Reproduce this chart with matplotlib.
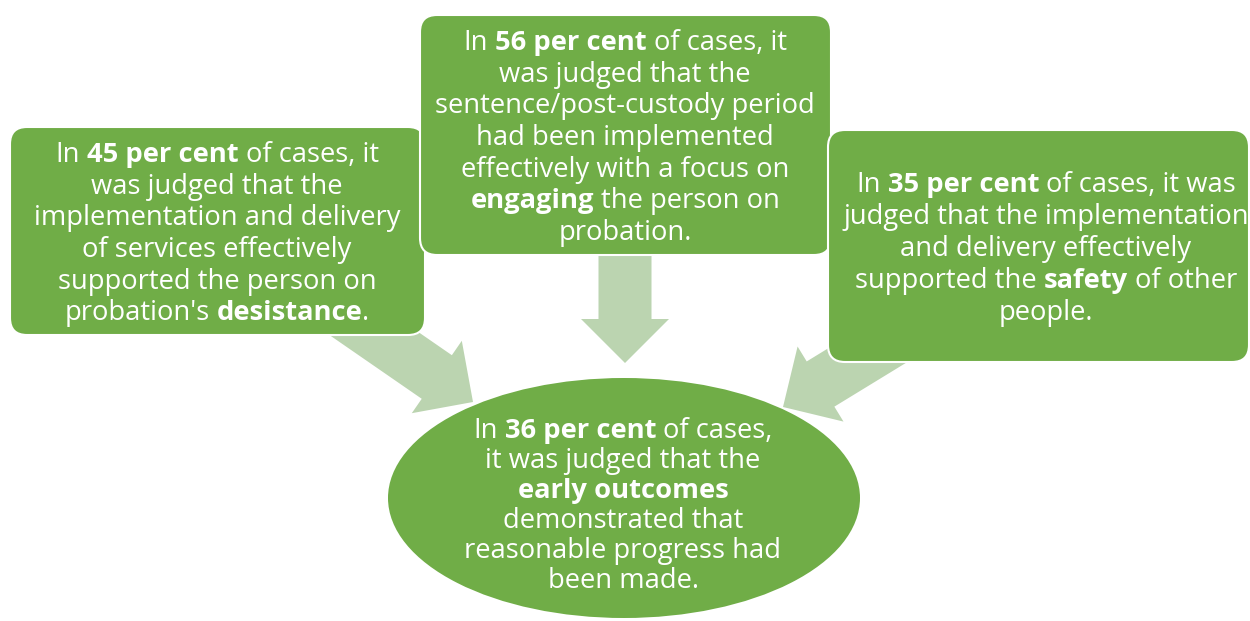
import matplotlib
matplotlib.use('Agg')
import matplotlib.pyplot as plt
from matplotlib import font_manager
from matplotlib.patches import FancyBboxPatch, Ellipse, FancyArrow

# figures quoted in each shape
percents = [45, 56, 35, 36]

# text of each shape, one entry per printed line, ** marks bold
left_lines = [
    "In **{} per cent** of cases, it",
    "was judged that the",
    "implementation and delivery",
    "of services effectively",
    "supported the person on",
    "probation's **desistance**.",
]
mid_lines = [
    "In **{} per cent** of cases, it",
    "was judged that the",
    "sentence/post-custody period",
    "had been implemented",
    "effectively with a focus on",
    "**engaging** the person on",
    "probation.",
]
right_lines = [
    "In **{} per cent** of cases, it was",
    "judged that the implementation",
    "and delivery effectively",
    "supported the **safety** of other",
    "people.",
]
ellipse_lines = [
    "In **{} per cent** of cases,",
    "it was judged that the",
    "**early outcomes**",
    "demonstrated that",
    "reasonable progress had",
    "been made.",
]

GREEN = '#70ad47'
PALE = '#bbd4b0'

# first humanist sans that also has a real bold face
FONT = 'DejaVu Sans'
for fam in ['Open Sans', 'Noto Sans', 'Lato', 'Roboto']:
    weights = [f.weight for f in font_manager.fontManager.ttflist if f.name == fam]
    if any((w if isinstance(w, int) else 700 if 'bold' in str(w) else 400) >= 600 for w in weights):
        FONT = fam
        break

fig = plt.figure(figsize=(12.5, 6.21), dpi=100)
ax = fig.add_axes([0, 0, 1, 1])
ax.set_xlim(0, 1250)
ax.set_ylim(621, 0)
ax.axis('off')
renderer = fig.canvas.get_renderer()


def text_width(s, bold, fs):
    t = ax.text(0, 0, s, fontsize=fs, family=FONT, fontweight='bold' if bold else 'normal')
    w = t.get_window_extent(renderer).width
    t.remove()
    return w


# size the font so a reference line has the same width as in the picture
FS = 20 * 366 / text_width('implementation and delivery', False, 20)
space_w = {b: text_width('a a', b, FS) - text_width('aa', b, FS) for b in (False, True)}


def draw_lines(cx, y0, step, lines, pct):
    for i, line in enumerate(lines):
        line = line.format(pct)
        parts = line.split('**')
        segs = []
        for k, p in enumerate(parts):
            if p == '':
                continue
            bold = k % 2 == 1
            segs.append((p.strip(), bold, p[0] == ' ', p[-1] == ' '))
        total = 0
        widths = []
        for s, b, lead, trail in segs:
            w = text_width(s, b, FS)
            pre = space_w[b] if lead else 0
            post = space_w[b] if trail else 0
            widths.append((pre, w, post))
            total += pre + w + post
        x = cx - total / 2
        y = y0 + i * step + 0.36 * FS * 100 / 72
        for (s, b, lead, trail), (pre, w, post) in zip(segs, widths):
            x += pre
            ax.text(x, y, s, fontsize=FS, family=FONT, color='white', va='baseline', ha='left',
                    fontweight='bold' if b else 'normal', zorder=10)
            x += w + post


# arrows sit under the shapes
arrows = [((321, 297), (473, 402)), ((625, 240), (625, 363)), ((940, 311), (783, 407))]
for (x0, y0), (x1, y1) in arrows:
    ax.add_patch(FancyArrow(x0, y0, x1 - x0, y1 - y0, width=53, head_width=88,
                            head_length=44, length_includes_head=True,
                            color=PALE, lw=0, zorder=1))

boxes = [(10, 127, 415, 208), (420, 15, 411, 240), (828, 130, 421, 232)]
for z, (x, y, w, h) in enumerate(boxes):
    ax.add_patch(FancyBboxPatch((x, y), w, h, boxstyle='round,pad=0,rounding_size=17',
                                fc=GREEN, ec='white', lw=1.5, zorder=2 + z))

ax.add_patch(Ellipse((624, 498), 472, 240, fc=GREEN, ec='none', zorder=2))

draw_lines(217, 152, 31.7, left_lines, percents[0])
draw_lines(625, 40, 31.7, mid_lines, percents[1])
draw_lines(1046, 182, 32, right_lines, percents[2])
draw_lines(623, 428, 30, ellipse_lines, percents[3])

fig.savefig('out.png', dpi=100)
